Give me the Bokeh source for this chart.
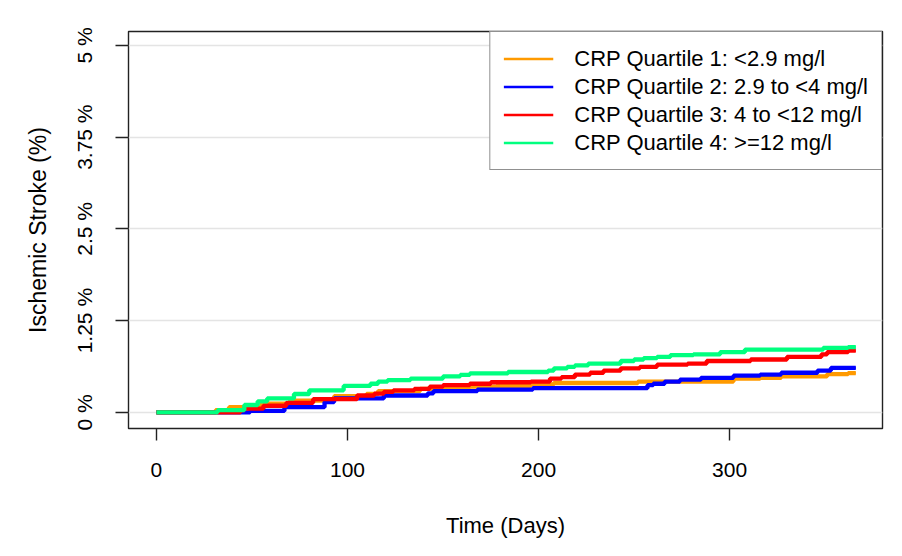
from bokeh.plotting import figure
from bokeh.models import Legend, LegendItem, FixedTicker, Range1d
from bokeh.embed import file_html
from bokeh.resources import INLINE

# ---- data ----
q1_days = [0, 31, 38, 55, 70, 93, 110, 116, 138, 145, 164, 178, 196, 208, 252, 302, 316, 327, 351, 362, 366]
q1_pct  = [0, 0.03, 0.07, 0.12, 0.16, 0.22, 0.25, 0.29, 0.32, 0.34, 0.35, 0.36, 0.38, 0.40, 0.42, 0.46, 0.47, 0.49, 0.52, 0.535, 0.535]

q2_days = [0, 49, 67, 88, 93, 119, 142, 145, 168, 197, 257, 260, 266, 274, 285, 302, 316, 327, 346, 353, 366]
q2_pct  = [0, 0.02, 0.07, 0.14, 0.19, 0.23, 0.26, 0.29, 0.31, 0.33, 0.37, 0.39, 0.42, 0.445, 0.47, 0.50, 0.515, 0.54, 0.57, 0.605, 0.605]

q3_days = [0, 44, 46, 56, 68, 82, 105, 114, 119, 124, 135, 143, 150, 164, 175, 196, 206, 212, 219, 227, 234, 243, 253, 262, 278, 288, 311, 330, 348, 351, 362, 366]
q3_pct  = [0, 0.03, 0.05, 0.09, 0.13, 0.18, 0.23, 0.255, 0.28, 0.30, 0.32, 0.35, 0.37, 0.39, 0.41, 0.42, 0.46, 0.48, 0.515, 0.54, 0.57, 0.60, 0.62, 0.65, 0.665, 0.70, 0.72, 0.755, 0.79, 0.82, 0.84, 0.84]

q4_days = [0, 32, 46, 53, 58, 72, 80, 98, 112, 116, 121, 133, 150, 159, 164, 184, 205, 208, 215, 219, 226, 243, 250, 255, 262, 269, 281, 295, 308, 349, 362, 366]
q4_pct  = [0, 0.03, 0.10, 0.15, 0.19, 0.25, 0.30, 0.36, 0.39, 0.42, 0.44, 0.46, 0.49, 0.51, 0.53, 0.55, 0.57, 0.60, 0.62, 0.64, 0.665, 0.70, 0.72, 0.74, 0.755, 0.78, 0.79, 0.82, 0.855, 0.88, 0.89, 0.89]

series_labels = ["CRP Quartile 1: <2.9 mg/l", "CRP Quartile 2: 2.9 to <4 mg/l",
                 "CRP Quartile 3: 4 to <12 mg/l", "CRP Quartile 4: >=12 mg/l"]
series_colors = ["#FF9A00", "#0000FF", "#FF0000", "#00FF7F"]

x_ticks = [0, 100, 200, 300]
y_ticks = [0, 1.25, 2.5, 3.75, 5]
y_tick_labels = ["0 %", "1.25 %", "2.5 %", "3.75 %", "5 %"]

x_title = "Time (Days)"
y_title = "Ischemic Stroke (%)"

FONT = "Liberation Sans"

p = figure(width=886, height=540, output_backend="svg", toolbar_location=None,
           x_range=Range1d(-14.6, 380), y_range=Range1d(-0.22, 5.19),
           min_border_left=128, min_border_right=4, min_border_top=31, min_border_bottom=112)
p.background_fill_color = "white"
p.border_fill_color = "white"
p.outline_line_color = "#222222"
p.outline_line_width = 1.4

series = [(q1_days, q1_pct), (q2_days, q2_pct), (q3_days, q3_pct), (q4_days, q4_pct)]

legend_renderers = []
for (d, v), c in zip(series, series_colors):
    r = p.step(d, v, mode="after", line_color=c, line_width=2.7)
    legend_renderers.append(r)
for (d, v), c in zip(series, series_colors):
    p.step(d, v, mode="after", line_color=c, line_width=4.3)

# axes
p.xaxis.ticker = FixedTicker(ticks=x_ticks)
p.yaxis.ticker = FixedTicker(ticks=y_ticks)
p.yaxis.major_label_overrides = {t: l for t, l in zip(y_ticks, y_tick_labels)}
p.yaxis.major_label_orientation = "vertical"
for ax in (p.xaxis, p.yaxis):
    ax.axis_line_color = None
    ax.major_tick_line_color = "#222222"
    ax.major_tick_line_width = 1.4
    ax.major_tick_in = 0
    ax.minor_tick_line_color = None
    ax.major_label_text_font = FONT
    ax.major_label_text_font_size = "21px"
    ax.major_label_text_color = "black"
    ax.axis_label_text_font = FONT
    ax.axis_label_text_font_size = "22px"
    ax.axis_label_text_font_style = "normal"
    ax.axis_label_text_color = "black"
p.yaxis.axis_label_text_font_size = "23px"
p.xaxis.major_tick_out = 12
p.yaxis.major_tick_out = 13
p.xaxis.major_label_standoff = 22
p.yaxis.major_label_standoff = 19
p.xaxis.axis_label = x_title
p.yaxis.axis_label = y_title
p.xaxis.axis_label_standoff = 33
p.yaxis.axis_label_standoff = 20

p.xgrid.grid_line_color = None
p.ygrid.grid_line_color = "#e4e4e4"
p.ygrid.grid_line_width = 1.5

legend = Legend(items=[LegendItem(label=l, renderers=[r]) for l, r in zip(series_labels, legend_renderers)],
                location="top_right", margin=0, padding=13, spacing=1,
                label_height=27, glyph_height=27, glyph_width=50, label_standoff=21,
                label_text_font=FONT, label_text_font_size="22px", label_text_color="black",
                border_line_color="#222222", border_line_width=1.4,
                background_fill_color="white", background_fill_alpha=1.0)
p.add_layout(legend)

open("out.html", "w").write(file_html(p, INLINE))
